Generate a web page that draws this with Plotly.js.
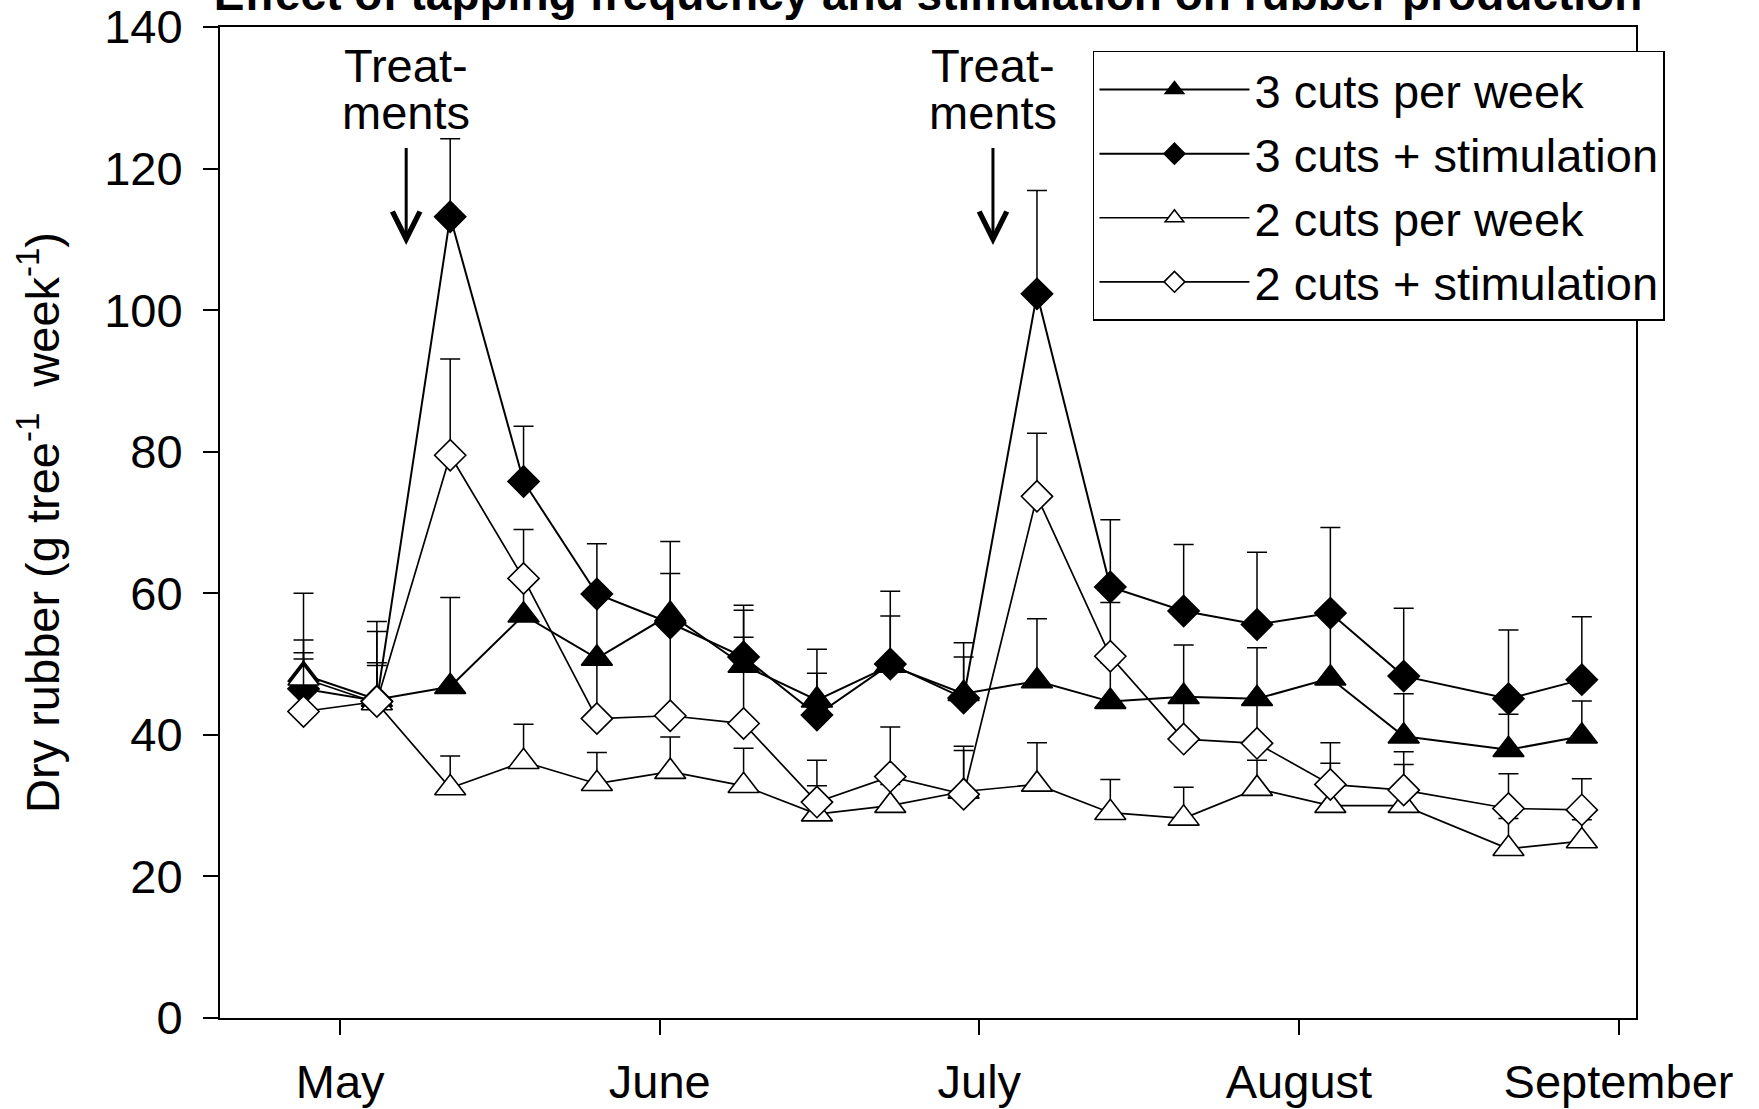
<!DOCTYPE html>
<html>
<head>
<meta charset="utf-8">
<script src="https://cdn.plot.ly/plotly-3.0.1.min.js"></script>
<style>
  html, body { margin: 0; padding: 0; background: #ffffff; }
  #chart { width: 1759px; height: 1109px; }
</style>
</head>
<body>
<div id="chart"></div>
<script>
// Sampling dates: days after 1 May (month ticks equally spaced)
const sampleDays = [-3.5, 3.5, 10.5, 17.5, 24.5, 31.5, 38.5, 45.5, 52.5, 59.5, 66.5, 73.5, 80.5, 87.5, 94.5, 101.5, 111.5, 118.5];

const monthTicks = [0, 30.5, 61, 91.5, 122];
const monthLabels = ['May', 'June', 'July', 'August', 'September'];

const seriesNames = ['3 cuts per week', '3 cuts + stimulation', '2 cuts per week', '2 cuts + stimulation'];

// Dry rubber (g tree-1 week-1), means
const cuts3 = [48.5, 45.0, 46.8, 56.9, 50.8, 57.0, 49.8, 44.9, 49.8, 45.8, 47.6, 44.7, 45.4, 45.1, 48.0, 39.8, 37.9, 39.8];
const cuts3Stim = [46.5, 44.8, 113.2, 75.8, 59.9, 55.8, 51.0, 42.8, 50.0, 45.2, 102.3, 60.9, 57.5, 55.6, 57.2, 48.3, 45.1, 47.8];
const cuts2 = [48.0, 44.5, 32.5, 36.2, 33.1, 34.8, 32.8, 28.8, 30.0, 32.0, 33.0, 29.0, 28.2, 32.4, 30.0, 30.0, 23.9, 25.0];
const cuts2Stim = [43.3, 44.7, 79.5, 62.1, 42.3, 42.7, 41.6, 30.5, 34.1, 31.6, 73.7, 51.1, 39.4, 38.8, 33.0, 32.2, 29.6, 29.4];

// Upper error bars (standard errors)
const cuts3Err = [11.5, 9.6, 12.6, 5.1, 8.2, 5.8, 7.8, 7.2, 7.0, 7.2, 8.8, 5.5, 7.3, 7.2, 9.0, 6.0, 5.0, 5.0];
const cuts3StimErr = [6.9, 11.2, 11.0, 7.8, 7.1, 11.5, 7.3, 5.9, 10.3, 5.8, 14.6, 9.5, 9.4, 10.2, 12.1, 9.6, 9.7, 8.9];
const cuts2Err = [3.6, 5.7, 4.5, 5.3, 4.4, 4.9, 5.3, 4.0, 3.0, 5.8, 5.9, 4.7, 4.4, 4.0, 6.0, 5.8, 4.3, 3.0];
const cuts2StimErr = [7.4, 5.1, 13.6, 6.9, 7.7, 13.0, 12.2, 5.9, 7.0, 6.8, 8.9, 7.6, 6.0, 6.0, 5.9, 5.4, 4.9, 4.4];

// Treatment application dates (days after 1 May)
const treatmentDays = [6.3, 62.3];

const FONT = 'Liberation Sans, Arial, Helvetica, sans-serif';
const noLower = sampleDays.map(() => 0);

function makeTrace(name, y, err, symbol, fill, lineWidth) {
  return {
    type: 'scatter',
    mode: 'lines+markers',
    name: name,
    x: sampleDays,
    y: y,
    cliponaxis: false,
    line: { color: '#000000', width: lineWidth },
    marker: {
      symbol: symbol,
      size: symbol === 'diamond' ? 24 : 27,
      color: fill,
      line: { color: '#000000', width: 1.6 }
    },
    error_y: {
      type: 'data',
      symmetric: false,
      array: err,
      arrayminus: noLower,
      color: '#000000',
      thickness: 1.5,
      width: 10
    }
  };
}

const data = [
  makeTrace(seriesNames[0], cuts3, cuts3Err, 'triangle-up', '#000000', 2),
  makeTrace(seriesNames[1], cuts3Stim, cuts3StimErr, 'diamond', '#000000', 2),
  makeTrace(seriesNames[2], cuts2, cuts2Err, 'triangle-up', '#ffffff', 1.7),
  makeTrace(seriesNames[3], cuts2Stim, cuts2StimErr, 'diamond', '#ffffff', 1.7)
];

const annotations = [];
treatmentDays.forEach(function (d) {
  annotations.push({
    x: d, y: 134.5, xref: 'x', yref: 'y',
    text: 'Treat-', showarrow: false,
    font: { family: FONT, size: 47, color: '#000000' },
    xanchor: 'center', yanchor: 'middle'
  });
  annotations.push({
    x: d, y: 109.2, xref: 'x', yref: 'y',
    text: 'ments', showarrow: true,
    ax: 0, ay: -133,
    arrowhead: 5, arrowsize: 1.8, arrowwidth: 3, arrowcolor: '#000000',
    startstandoff: 8,
    font: { family: FONT, size: 47, color: '#000000' }
  });
});

const axisCommon = {
  showline: true, linecolor: '#000000', linewidth: 2, mirror: true,
  ticks: 'outside', ticklen: 15, tickwidth: 2, tickcolor: '#000000',
  showgrid: false, zeroline: false,
  tickfont: { family: FONT, size: 47, color: '#000000' }
};

const layout = Object.assign({
  width: 1759,
  height: 1109,
  margin: { l: 220, r: 123, t: 27, b: 91, pad: 0 },
  paper_bgcolor: '#ffffff',
  plot_bgcolor: '#ffffff',
  font: { family: FONT, size: 47, color: '#000000' },
  title: {
    text: '<b>Effect of tapping frequency and stimulation on rubber production</b>',
    font: { family: FONT, size: 46, color: '#000000' },
    x: 0.5, xref: 'paper', xanchor: 'center',
    y: 0.991, yref: 'container', yanchor: 'bottom'
  },
  showlegend: true,
  legend: {
    x: 0.6165, y: 0.9758, xanchor: 'left', yanchor: 'top',
    bgcolor: '#ffffff', bordercolor: '#000000', borderwidth: 1.5,
    font: { family: FONT, size: 47, color: '#000000' },
    itemwidth: 150, tracegroupgap: 0
  },
  annotations: annotations,
  xaxis: Object.assign({}, axisCommon, {
    range: [-11.47, 123.67],
    tickmode: 'array', tickvals: monthTicks, ticktext: monthLabels,
    ticklabelstandoff: 7
  }),
  yaxis: Object.assign({}, axisCommon, {
    range: [0, 140], tickmode: 'linear', tick0: 0, dtick: 20,
    ticklabelstandoff: 11,
    title: {
      text: 'Dry rubber (g tree<sup>-1</sup>  week<sup>-1</sup>)',
      font: { family: FONT, size: 47, color: '#000000' },
      standoff: 30
    }
  })
});

Plotly.newPlot('chart', data, layout, { staticPlot: true, displayModeBar: false });
</script>
</body>
</html>
